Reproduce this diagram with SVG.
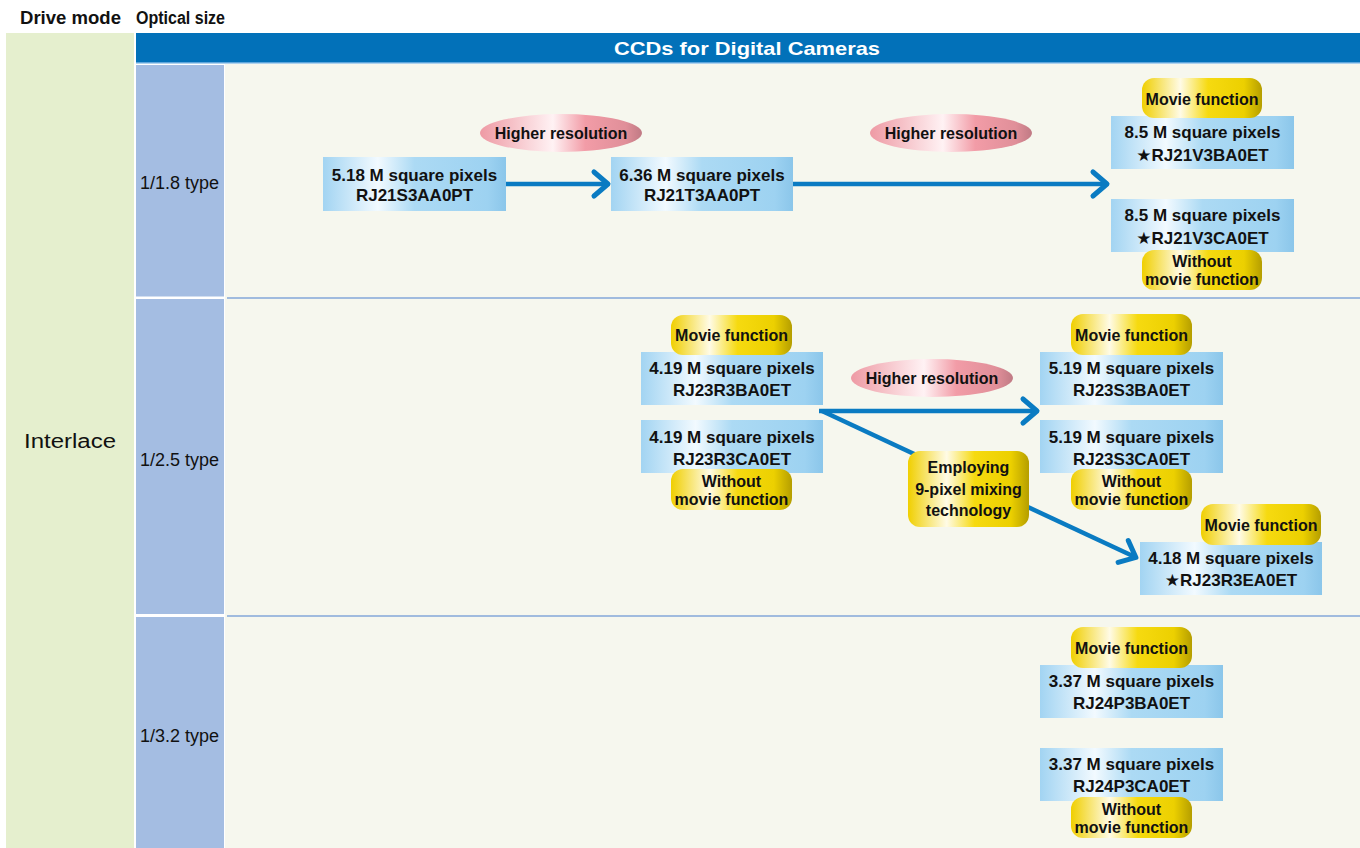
<svg xmlns="http://www.w3.org/2000/svg" width="1360" height="848" viewBox="0 0 1360 848">
<defs>
<linearGradient id="gBox" x1="0" y1="0" x2="1" y2="0">
<stop offset="0" stop-color="#a2d4f2"/>
<stop offset="0.3" stop-color="#f2faff"/>
<stop offset="0.5" stop-color="#acdaf4"/>
<stop offset="0.9" stop-color="#9dd2f1"/>
<stop offset="1" stop-color="#8bc6ea"/>
</linearGradient>
<linearGradient id="gGold" x1="0" y1="0" x2="1" y2="0">
<stop offset="0" stop-color="#f0cf00"/>
<stop offset="0.32" stop-color="#fffbe6"/>
<stop offset="0.55" stop-color="#f6da10"/>
<stop offset="0.85" stop-color="#ecd000"/>
<stop offset="1" stop-color="#b59e00"/>
</linearGradient>
<linearGradient id="gPink" x1="0" y1="0" x2="1" y2="0">
<stop offset="0" stop-color="#ee9aa4"/>
<stop offset="0.45" stop-color="#fff2f4"/>
<stop offset="0.65" stop-color="#f29ca7"/>
<stop offset="0.9" stop-color="#e08f99"/>
<stop offset="1" stop-color="#c07a84"/>
</linearGradient>
<marker id="chev" viewBox="0 0 20 28" markerWidth="20" markerHeight="28" refX="16" refY="14" orient="auto" markerUnits="userSpaceOnUse" overflow="visible">
<path d="M3,2 L17,14 L3,26" fill="none" stroke="#0a7bc2" stroke-width="5" stroke-linecap="round" stroke-linejoin="round"/>
</marker>
<style>
text{font-family:"Liberation Sans","DejaVu Sans",sans-serif;fill:#111}
.b{font-weight:bold}
.box{fill:url(#gBox)}
.pill{fill:url(#gGold)}
.pink{fill:url(#gPink)}
.bt{font-weight:bold;font-size:17px;text-anchor:middle}
.pt{font-weight:bold;font-size:16px;text-anchor:middle}
.lbl{font-size:18px}
.conn{fill:none;stroke:#0a7bc2;stroke-width:4.5;marker-end:url(#chev)}
</style>
</defs>
<rect width="1360" height="848" fill="#ffffff"/>
<g id="headers">
<text x="20" y="24" class="b" font-size="18" textLength="101" lengthAdjust="spacingAndGlyphs">Drive mode</text>
<text x="136" y="24" class="b" font-size="18" textLength="89" lengthAdjust="spacingAndGlyphs">Optical size</text>
</g>
<g id="drive-mode">
<rect x="6" y="33" width="128" height="815" fill="#e5efce"/>
<text x="70" y="448" font-size="20" text-anchor="middle" textLength="92" lengthAdjust="spacingAndGlyphs">Interlace</text>
</g>
<g id="title-bar">
<rect x="136" y="33" width="1224" height="29" fill="#0271b9"/>
<rect x="136" y="62" width="1224" height="1.5" fill="#5ea6dc"/>
<text x="747" y="55" class="b" font-size="19" fill="#ffffff" text-anchor="middle" style="fill:#ffffff" textLength="266" lengthAdjust="spacingAndGlyphs">CCDs for Digital Cameras</text>
</g>
<g id="optical-sizes">
<rect x="136" y="65" width="88" height="231.5" fill="#a4bde2"/>
<rect x="136" y="299" width="88" height="315" fill="#a4bde2"/>
<rect x="136" y="617" width="88" height="231" fill="#a4bde2"/>
<text x="140" y="189" class="lbl">1/1.8 type</text>
<text x="140" y="466" class="lbl">1/2.5 type</text>
<text x="140" y="742" class="lbl">1/3.2 type</text>
</g>
<g id="content-area">
<rect x="225" y="64" width="1135" height="784" fill="#f6f7ee"/>
<rect x="227" y="297" width="1133" height="2" fill="#a0bbde"/>
<rect x="227" y="615" width="1133" height="2" fill="#a0bbde"/>
</g>
<g id="connectors">
<path class="conn" d="M506,184 H607"/>
<path class="conn" d="M793,184 H1106"/>
<path class="conn" d="M819,411 H1036"/>
<path class="conn" d="M822,411 L1135,557"/>
</g>
<g id="label-higher-res-1"><ellipse class="pink" cx="561" cy="133" rx="81" ry="19"/><text x="561" y="139" class="pt">Higher resolution</text></g>
<g id="label-higher-res-2"><ellipse class="pink" cx="951" cy="133" rx="81" ry="19"/><text x="951" y="139" class="pt">Higher resolution</text></g>
<g id="label-higher-res-3"><ellipse class="pink" cx="932" cy="378" rx="81" ry="19"/><text x="932" y="384" class="pt">Higher resolution</text></g>
<g id="node-RJ21S3AA0PT"><rect class="box" x="323" y="157" width="183" height="54"/><text x="414.5" y="181" class="bt">5.18 M square pixels</text><text x="414.5" y="201" class="bt">RJ21S3AA0PT</text></g>
<g id="node-RJ21T3AA0PT"><rect class="box" x="611" y="157" width="182" height="54"/><text x="702" y="181" class="bt">6.36 M square pixels</text><text x="702" y="201" class="bt">RJ21T3AA0PT</text></g>
<g id="node-RJ21V3BA0ET"><rect class="box" x="1111" y="116" width="183" height="53"/><text x="1202.5" y="138" class="bt">8.5 M square pixels</text><text x="1202.5" y="161" class="bt">★RJ21V3BA0ET</text></g>
<g id="pill-movie-1"><rect class="pill" x="1142" y="78" width="120" height="40" rx="12"/><text x="1202" y="105" class="pt">Movie function</text></g>
<g id="node-RJ21V3CA0ET"><rect class="box" x="1111" y="199" width="183" height="53"/><text x="1202.5" y="221" class="bt">8.5 M square pixels</text><text x="1202.5" y="244" class="bt">★RJ21V3CA0ET</text></g>
<g id="pill-nomovie-1"><rect class="pill" x="1142" y="250" width="120" height="40" rx="12"/><text x="1202" y="267" class="pt">Without</text><text x="1202" y="285" class="pt">movie function</text></g>
<g id="node-RJ23R3BA0ET"><rect class="box" x="641" y="352" width="182" height="53"/><text x="732" y="374" class="bt">4.19 M square pixels</text><text x="732" y="396" class="bt">RJ23R3BA0ET</text></g>
<g id="pill-movie-2"><rect class="pill" x="671" y="315" width="121" height="40" rx="12"/><text x="731.5" y="341" class="pt">Movie function</text></g>
<g id="node-RJ23R3CA0ET"><rect class="box" x="641" y="420" width="182" height="53"/><text x="732" y="443" class="bt">4.19 M square pixels</text><text x="732" y="465" class="bt">RJ23R3CA0ET</text></g>
<g id="pill-nomovie-2"><rect class="pill" x="671" y="469" width="121" height="41" rx="12"/><text x="731.5" y="487" class="pt">Without</text><text x="731.5" y="505" class="pt">movie function</text></g>
<g id="node-RJ23S3BA0ET"><rect class="box" x="1040" y="352" width="183" height="53"/><text x="1131.5" y="374" class="bt">5.19 M square pixels</text><text x="1131.5" y="396" class="bt">RJ23S3BA0ET</text></g>
<g id="pill-movie-3"><rect class="pill" x="1071" y="314" width="121" height="41" rx="12"/><text x="1131.5" y="341" class="pt">Movie function</text></g>
<g id="node-RJ23S3CA0ET"><rect class="box" x="1040" y="420" width="183" height="53"/><text x="1131.5" y="443" class="bt">5.19 M square pixels</text><text x="1131.5" y="465" class="bt">RJ23S3CA0ET</text></g>
<g id="pill-nomovie-3"><rect class="pill" x="1071" y="469" width="121" height="41" rx="12"/><text x="1131.5" y="487" class="pt">Without</text><text x="1131.5" y="505" class="pt">movie function</text></g>
<g id="pill-9pixel"><rect class="pill" x="908" y="451" width="121" height="76" rx="12"/><text x="968.5" y="473" class="pt">Employing</text><text x="968.5" y="495" class="pt">9-pixel mixing</text><text x="968.5" y="516" class="pt">technology</text></g>
<g id="node-RJ23R3EA0ET"><rect class="box" x="1140" y="542" width="182" height="53"/><text x="1231" y="564" class="bt">4.18 M square pixels</text><text x="1231" y="586" class="bt">★RJ23R3EA0ET</text></g>
<g id="pill-movie-4"><rect class="pill" x="1201" y="504" width="120" height="41" rx="12"/><text x="1261" y="531" class="pt">Movie function</text></g>
<g id="node-RJ24P3BA0ET"><rect class="box" x="1040" y="665" width="183" height="53"/><text x="1131.5" y="687" class="bt">3.37 M square pixels</text><text x="1131.5" y="709" class="bt">RJ24P3BA0ET</text></g>
<g id="pill-movie-5"><rect class="pill" x="1071" y="627" width="121" height="41" rx="12"/><text x="1131.5" y="654" class="pt">Movie function</text></g>
<g id="node-RJ24P3CA0ET"><rect class="box" x="1040" y="748" width="183" height="53"/><text x="1131.5" y="770" class="bt">3.37 M square pixels</text><text x="1131.5" y="792" class="bt">RJ24P3CA0ET</text></g>
<g id="pill-nomovie-4"><rect class="pill" x="1071" y="797" width="121" height="41" rx="12"/><text x="1131.5" y="815" class="pt">Without</text><text x="1131.5" y="833" class="pt">movie function</text></g>
</svg>
